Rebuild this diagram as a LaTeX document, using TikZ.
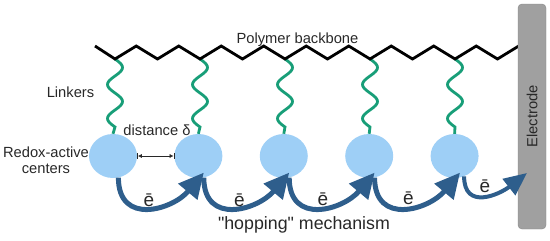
\documentclass[tikz,border=0pt]{standalone}
\usepackage{fontspec}
\setmainfont{Liberation Sans}[Ligatures=TeXOff]
\usetikzlibrary{arrows.meta, positioning, shapes.geometric}
\definecolor{redox}{RGB}{158,207,246}
\definecolor{linkgreen}{RGB}{24,158,120}
\definecolor{hopblue}{RGB}{46,94,140}
\definecolor{elecgray}{RGB}{160,160,160}
\definecolor{txt}{RGB}{40,40,40}

\begin{document}
\begin{tikzpicture}[x=1pt, y=1pt, node distance=37pt,
    every node/.style={font=\fontsize{14.7}{16}\selectfont, text=txt, inner sep=0pt},
    redoxnode/.style={ellipse, fill=redox, minimum width=48pt, minimum height=44pt},
    backbone/.style={line width=2.8pt, line join=miter},
    linker/.style={draw=linkgreen, line width=2.8pt},
    hop/.style={draw=hopblue, line width=5pt, -{Triangle[length=25pt, width=24pt]}},
    gap/.style={|<->|, >={Latex[length=4pt, width=4pt]}, line width=0.6pt, draw=txt},
    elabel/.style={font=\fontsize{19}{20}\selectfont, anchor=base},
    electrode/.style={rectangle, rounded corners=4pt, fill=elecgray, draw=elecgray!85!black, minimum width=225pt, minimum height=28pt, rotate=90}]

    \useasboundingbox (0,0) rectangle (550,-241);

    % redox-active centers
    \node[redoxnode] (c1) at (113,-156) {};
    \node[redoxnode, right=of c1] (c2) {};
    \node[redoxnode, right=of c2] (c3) {};
    \node[redoxnode, right=of c3] (c4) {};
    \node[redoxnode, right=of c4] (c5) {};

    % linkers hang from the backbone
    \foreach \i/\x in {1/115,2/200,3/285,4/370,5/455}
        \draw[linker] plot[variable=\t, domain=0:68, samples=49, smooth] ({\x+7.5*sin(\t*10.588)}, {-59-\t}) -- (c\i.north);

    \draw[backbone] (95,-46) \foreach \k in {0,2,...,18} { -- ({115+21.25*\k},-59) -- ({136.25+21.25*\k},-46) };
    \node[electrode] (elec) at (532,-116.5) {Electrode};

    \draw[gap] (c1.east) -- (c2.west);

    % hopping arrows
    \foreach \i/\j in {1/2,2/3,3/4,4/5}
        \draw[hop] (c\i.-76) to[out=-90, in=230, looseness=1.45] ([yshift=5pt]c\j.-76);
    \coordinate (tip) at (527,-173);
    \draw[hop, line width=4pt, -{Triangle[length=23pt, width=20pt]}] (c5.-65) to[out=-90, in=218, looseness=1.4] (tip);

    \node[elabel] (e1) at (149,-206) {ē};
    \node[elabel] (e2) at (239.5,-206) {ē};
    \node[elabel] (e3) at (323,-205) {ē};
    \node[elabel] (e4) at (408.5,-204) {ē};
    \node[elabel] (e5) at (485,-192) {ē};

    \node[anchor=base] (poly) at (297.5,-43) {Polymer backbone};
    \node[anchor=base] (link) at (70.5,-97) {Linkers};
    \node[anchor=base] (dist) at (157,-135) {distance δ};
    \node[align=center] (redox) at (46,-160) {Redox-active\\centers};
    \node[anchor=base, font=\fontsize{17.8}{20}\selectfont] (hopping) at (304,-229) {"hopping" mechanism};
\end{tikzpicture}
\end{document}
